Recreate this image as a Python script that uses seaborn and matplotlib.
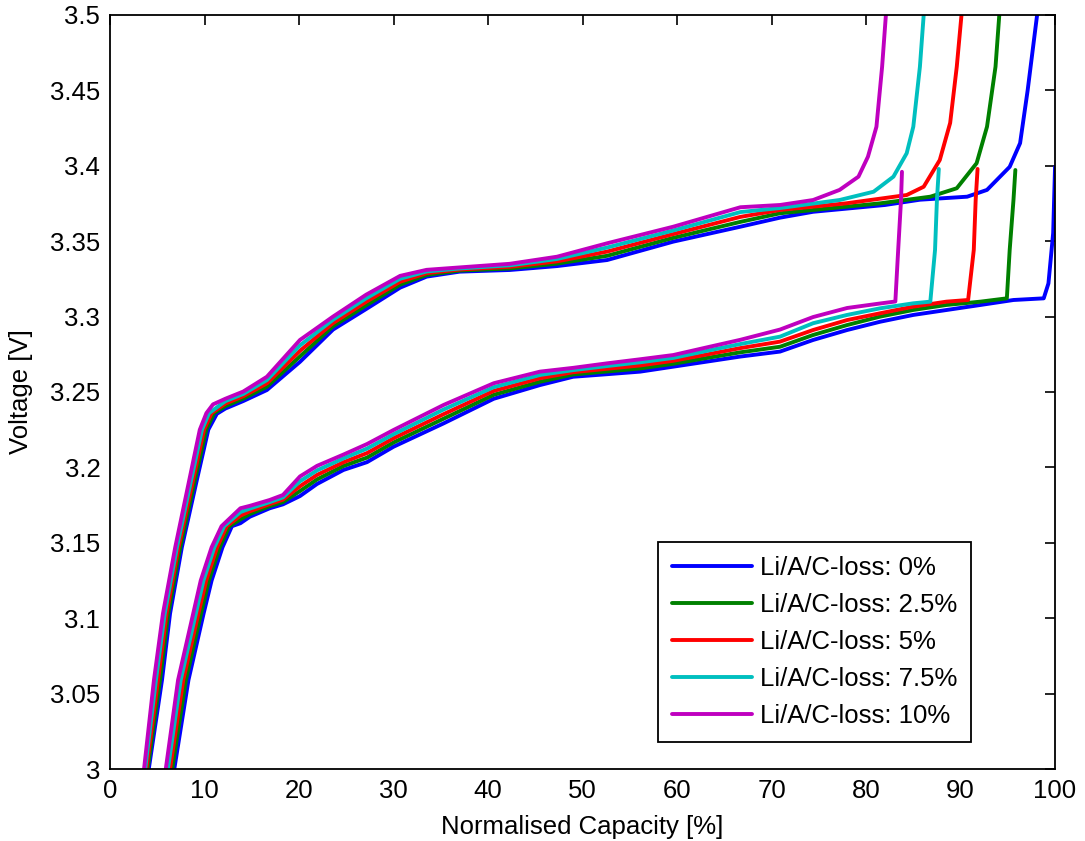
import numpy as np
import pandas as pd
import matplotlib
matplotlib.use("Agg")
import matplotlib.pyplot as plt
import seaborn as sns

# series labels and colours (MATLAB default order)
labels = ["Li/A/C-loss: 0%", "Li/A/C-loss: 2.5%", "Li/A/C-loss: 5%",
          "Li/A/C-loss: 7.5%", "Li/A/C-loss: 10%"]
colors = ["#0000ff", "#008000", "#ff0000", "#00bfbf", "#bf00bf"]

# ---- upper (charge) curves: capacity [%] and voltage [V] ----
up_x_0 = [4.1, 5.5, 6.35, 7.6, 9.2, 10.4, 11.3, 12.2, 14.1, 16.6, 20.1, 23.6, 27.1, 30.7,
          33.5, 37.0, 42.3, 47.3, 52.6, 59.6, 66.7, 70.9, 74.4, 82.0, 85.7, 90.7, 92.8,
          95.2, 96.3, 97.1, 98.1]
up_v_0 = [3.0, 3.059, 3.103, 3.147, 3.192, 3.225, 3.2355, 3.239, 3.244, 3.2513, 3.270, 3.2914,
          3.305, 3.3192, 3.3265, 3.3298, 3.3309, 3.3335, 3.3375, 3.3497, 3.3596, 3.3656,
          3.3695, 3.374, 3.3775, 3.3795, 3.384, 3.3993, 3.415, 3.45, 3.5]

up_x_25 = [3.98, 5.29, 6.16, 7.43, 9.0, 10.18, 11.03, 12.2, 14.1, 16.6, 20.1, 23.6, 27.1, 30.7,
           33.5, 37.0, 42.3, 47.3, 52.6, 59.6, 66.7, 70.9, 81.5, 86.8, 89.6, 91.7, 92.8,
           93.7, 94.1]
up_v_25 = [3.0, 3.059, 3.103, 3.147, 3.192, 3.225, 3.236, 3.2406, 3.2456, 3.2535, 3.2736,
           3.2936, 3.3074, 3.3212, 3.3276, 3.3305, 3.3319, 3.3351, 3.3403, 3.3522, 3.3628,
           3.3685, 3.3751, 3.3795, 3.3851, 3.4017, 3.4259, 3.4657, 3.5]

up_x_5 = [3.85, 5.08, 5.98, 7.25, 8.8, 9.95, 10.75, 12.2, 14.1, 16.6, 20.1, 23.6, 27.1, 30.7,
          33.5, 37.0, 42.3, 47.3, 52.6, 59.6, 66.7, 70.9, 77.9, 84.3, 86.1, 87.8, 88.9,
          89.6, 90.1]
up_v_5 = [3.0, 3.059, 3.103, 3.147, 3.192, 3.225, 3.236, 3.2423, 3.2472, 3.2557, 3.2773,
          3.2957, 3.3098, 3.3231, 3.3288, 3.3312, 3.333, 3.3366, 3.3431, 3.3547, 3.3661,
          3.3707, 3.3751, 3.3806, 3.3861, 3.4038, 3.4284, 3.4657, 3.5]

up_x_75 = [3.72, 4.86, 5.79, 7.08, 8.6, 9.73, 10.48, 12.2, 14.1, 16.6, 20.1, 23.6, 27.1, 30.7,
           33.5, 37.0, 42.3, 47.3, 52.6, 59.6, 66.7, 70.9, 77.2, 80.8, 82.9, 84.3, 85.0,
           85.7, 86.1]
up_v_75 = [3.0, 3.059, 3.103, 3.147, 3.192, 3.225, 3.236, 3.2439, 3.2487, 3.2579, 3.2809,
           3.2979, 3.3121, 3.3251, 3.3299, 3.3319, 3.334, 3.3382, 3.3458, 3.3571, 3.3693,
           3.372, 3.3773, 3.3828, 3.3928, 3.4083, 3.4259, 3.4657, 3.5]

up_x_10 = [3.6, 4.65, 5.6, 6.9, 8.4, 9.5, 10.2, 10.9, 12.2, 14.1, 16.6, 20.1, 23.6, 27.1,
           30.7, 33.5, 37.0, 42.3, 47.3, 52.6, 59.6, 66.7, 70.9, 74.4, 77.2, 79.2, 80.2,
           81.1, 81.7, 82.1]
up_v_10 = [3.0, 3.059, 3.103, 3.147, 3.192, 3.225, 3.236, 3.2418, 3.2455, 3.2503, 3.2601,
           3.2845, 3.300, 3.3145, 3.327, 3.331, 3.3326, 3.335, 3.3397, 3.3486, 3.3596,
           3.3725, 3.374, 3.3773, 3.384, 3.3928, 3.406, 3.4259, 3.4657, 3.5]

# ---- lower (discharge) curves ----
lo_x_0 = [6.8, 8.3, 9.9, 10.75, 11.9, 12.9, 13.8, 14.8, 16.9, 18.3, 20.1, 21.9, 24.7, 27.2,
          30.0, 35.3, 40.6, 45.5, 49.0, 52.6, 56.1, 59.6, 63.1, 66.7, 70.9, 74.4, 78.0,
          81.5, 85.0, 92.1, 95.6, 98.8, 99.3, 99.8, 100.0]
lo_v_0 = [3.0, 3.059, 3.103, 3.125, 3.147, 3.161, 3.163, 3.1673, 3.1729, 3.1755, 3.181, 3.189,
          3.1983, 3.2035, 3.2137, 3.2292, 3.2455, 3.2546, 3.2601, 3.2618, 3.2635, 3.2668,
          3.2701, 3.2735, 3.2768, 3.2845, 3.2911, 3.2966, 3.3011, 3.3077, 3.311, 3.3121,
          3.322, 3.3554, 3.3993]

lo_x_25 = [6.58, 8.03, 9.63, 10.46, 11.61, 12.63, 13.8, 14.8, 16.9, 18.3, 20.1, 21.9, 24.7,
           27.2, 30.0, 35.3, 40.6, 45.5, 49.0, 52.6, 56.1, 59.6, 63.1, 66.7, 70.9, 74.4,
           78.0, 81.5, 85.0, 88.5, 92.1, 94.9, 95.2, 95.6, 95.8]
lo_v_25 = [3.0, 3.059, 3.103, 3.125, 3.147, 3.161, 3.1655, 3.1691, 3.1743, 3.177, 3.1843,
           3.192, 3.2009, 3.2065, 3.2165, 3.2323, 3.2481, 3.2568, 3.2616, 3.2636, 3.2656,
           3.2687, 3.2725, 3.2763, 3.280, 3.2878, 3.2944, 3.300, 3.3044, 3.3077, 3.3099,
           3.3121, 3.3442, 3.3773, 3.3972]

lo_x_5 = [6.35, 7.75, 9.35, 10.18, 11.33, 12.35, 13.8, 14.8, 16.9, 18.3, 20.1, 21.9, 24.7,
          27.2, 30.0, 35.3, 40.6, 45.5, 49.0, 52.6, 56.1, 59.6, 63.1, 66.7, 70.9, 74.4,
          78.0, 81.5, 85.0, 88.5, 90.8, 91.4, 91.6, 91.8]
lo_v_5 = [3.0, 3.059, 3.103, 3.125, 3.147, 3.161, 3.168, 3.1709, 3.1757, 3.1786, 3.1875,
          3.195, 3.2034, 3.2095, 3.2193, 3.2353, 3.2507, 3.2591, 3.2631, 3.2654, 3.2676,
          3.2707, 3.2748, 3.2791, 3.2834, 3.2911, 3.2977, 3.3022, 3.3066, 3.3099, 3.311,
          3.3442, 3.3773, 3.3979]

lo_x_75 = [6.13, 7.48, 9.08, 9.89, 11.04, 12.08, 13.8, 14.8, 16.9, 18.3, 20.1, 21.9, 24.7,
           27.2, 30.0, 35.3, 40.6, 45.5, 49.0, 52.6, 56.1, 59.6, 63.1, 66.7, 70.9, 74.4,
           78.0, 81.5, 85.0, 86.8, 87.3, 87.5, 87.7]
lo_v_75 = [3.0, 3.059, 3.103, 3.125, 3.147, 3.161, 3.1704, 3.1727, 3.177, 3.1801, 3.1908,
           3.198, 3.206, 3.2125, 3.222, 3.2384, 3.2532, 3.2613, 3.2645, 3.2672, 3.2697,
           3.2726, 3.2772, 3.2818, 3.2867, 3.2956, 3.3011, 3.3055, 3.3088, 3.3099, 3.3442,
           3.3773, 3.3979]

lo_x_10 = [5.9, 7.2, 8.8, 9.6, 10.75, 11.8, 13.8, 14.8, 16.9, 18.3, 20.1, 21.9, 24.7, 27.2,
           30.0, 35.3, 40.6, 45.5, 49.0, 52.6, 56.1, 59.6, 63.1, 66.7, 70.9, 74.4, 78.0,
           81.5, 83.1, 83.4, 83.7, 83.8]
lo_v_10 = [3.0, 3.059, 3.103, 3.125, 3.147, 3.161, 3.1729, 3.1745, 3.1784, 3.1817, 3.194,
           3.201, 3.2085, 3.2155, 3.2248, 3.2414, 3.2558, 3.2635, 3.266, 3.269, 3.2717,
           3.2745, 3.2795, 3.2846, 3.2914, 3.2997, 3.3057, 3.3087, 3.310, 3.3442, 3.3773,
           3.396]

upper = [(up_x_0, up_v_0), (up_x_25, up_v_25), (up_x_5, up_v_5), (up_x_75, up_v_75), (up_x_10, up_v_10)]
lower = [(lo_x_0, lo_v_0), (lo_x_25, lo_v_25), (lo_x_5, lo_v_5), (lo_x_75, lo_v_75), (lo_x_10, lo_v_10)]

sns.set_style("white")
plt.rcParams['font.family'] = ['Liberation Sans', 'DejaVu Sans']
plt.rcParams['text.color'] = 'black'
plt.rcParams['axes.labelcolor'] = 'black'

fig = plt.figure(figsize=(10.85, 8.41), dpi=100)
ax = fig.add_axes([0.1014, 0.0856, 0.871, 0.8966])

for i in range(5):
    ux, uv = upper[i]
    lx, lv = lower[i]
    sns.lineplot(x=ux, y=uv, sort=False, estimator=None, color=colors[i], lw=2.8,
                 label=labels[i], ax=ax)
    sns.lineplot(x=lx, y=lv, sort=False, estimator=None, color=colors[i], lw=2.8, ax=ax)

ax.set_xlim(0, 100)
ax.set_ylim(3, 3.5)
ax.set_xticks(np.arange(0, 101, 10))
ax.set_yticks(np.arange(3.0, 3.501, 0.05))
ax.set_yticklabels(["3", "3.05", "3.1", "3.15", "3.2", "3.25", "3.3", "3.35", "3.4", "3.45", "3.5"])
ax.tick_params(direction="in", length=7, width=1.2, top=True, right=True,
               labelsize=18.5, colors="black", pad=7)
for s in ax.spines.values():
    s.set_visible(True)
    s.set_color("black")
    s.set_linewidth(1.3)

ax.set_xlabel("Normalised Capacity [%]", fontsize=18.5, labelpad=9)
ax.set_ylabel("Voltage [V]", fontsize=18.5, labelpad=12)

leg = ax.legend(loc="lower left", bbox_to_anchor=(0.58, 0.036), fontsize=18.5,
                frameon=True, fancybox=False, edgecolor="black", framealpha=1,
                handlelength=3.1, handletextpad=0.3, labelspacing=0.5,
                borderpad=0.55, borderaxespad=0)
leg.get_frame().set_linewidth(1.3)

fig.savefig("out.png", dpi=100)
